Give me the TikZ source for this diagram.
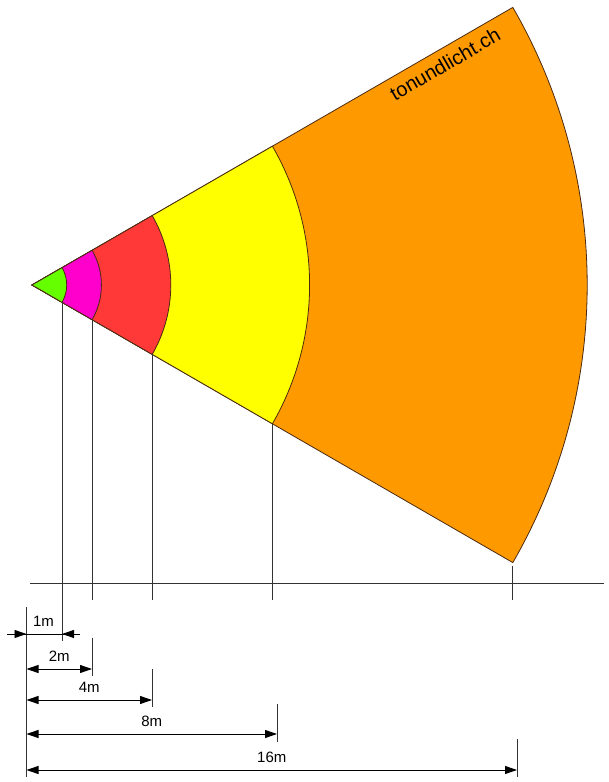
\documentclass[tikz,border=0pt]{standalone}
\usepackage{fontspec}
\setmainfont{Liberation Sans}
\usetikzlibrary{arrows.meta,calc,positioning}

\definecolor{greenfill}{HTML}{66FF00}
\definecolor{pinkfill}{HTML}{FF00CC}
\definecolor{redfill}{HTML}{FF3838}
\definecolor{yellowfill}{HTML}{FFFF00}
\definecolor{orangefill}{HTML}{FF9900}
\definecolor{edgebrown}{HTML}{4A2A10}

\begin{document}
\begin{tikzpicture}[x=1pt,y=1pt,
	sector/.style={draw=edgebrown,line width=0.8pt},
	drop/.style={draw=black!80,line width=0.9pt},
	tip/.style={-{Triangle[length=12pt,width=8pt]},line width=0.9pt},
	dim/.style={{Triangle[length=12pt,width=8pt]}-{Triangle[length=12pt,width=8pt]},line width=0.9pt},
	dimtext/.style={midway,above=7pt,inner sep=0pt,font=\fontsize{15}{18}\selectfont}]
\useasboundingbox (0,0) rectangle (608,782);
\def\um{34.7}
\coordinate (apex) at (32,497);

% sectors, biggest first
\foreach \r/\c in {16/orangefill,8/yellowfill,4/redfill,2/pinkfill,1/greenfill}
	\filldraw[sector,fill=\c] (apex) -- ++(-30:\r*\um) arc[start angle=-30,end angle=30,radius=\r*\um] -- cycle;

\node[rotate=30,font=\fontsize{20}{24}\selectfont] (brand) at (445,718) {tonundlicht.ch};

% ground line and drops
\draw[drop] (30,199) coordinate (gl) -- (604,199) coordinate (gr);
\foreach \r/\low in {1/141,2/182,4/182,8/182}
	\draw[drop] ($(apex)+(-30:\r*\um)$) coordinate (e\r) -- (e\r |- 0,\low);
\draw[drop] ($(apex)+(-30:16*\um)+(0,-3)$) coordinate (e16) -- (e16 |- 0,182);

% dimensions
\coordinate (ref) at (26.5,175);
\draw[drop] (ref) -- (ref |- 0,5);
\foreach \xe/\ytop/\ybot in {92/144/106,152/113/75,277/78/40,517/43/5}
	\draw[drop] (\xe,\ytop) -- (\xe,\ybot);

\draw[line width=0.9pt] (7,148) -- node[dimtext] {1m} (80,148);
\draw[tip] (7,148) -- (ref |- 0,148);
\draw[tip] (80,148) -- (62,148);
\foreach \len/\xe/\yy in {2m/92/113,4m/152/82,8m/277/48,16m/517/12}
	\draw[dim] (ref |- 0,\yy) -- node[dimtext] {\len} (\xe,\yy);

\end{tikzpicture}
\end{document}
